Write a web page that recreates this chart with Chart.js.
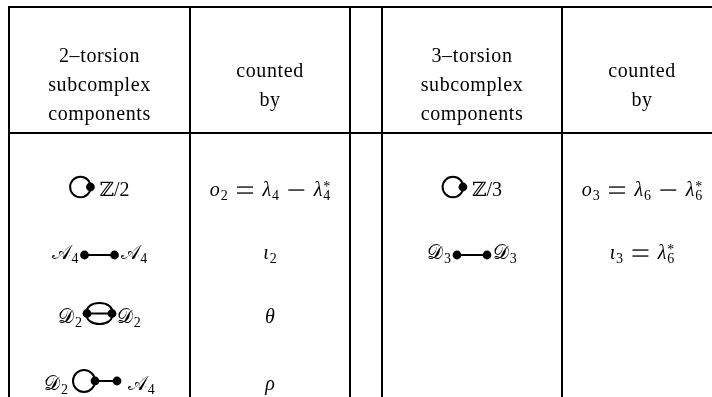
<!DOCTYPE html>
<html>
<head>
<meta charset="utf-8">
<script src="https://cdn.jsdelivr.net/npm/chart.js@4.4.0/dist/chart.umd.min.js"></script>
<style>
  html, body { margin: 0; padding: 0; background: #fff; }
</style>
</head>
<body>
<canvas id="myChart" width="712" height="397"></canvas>
<script>
// column titles
const head2 = ['2–torsion', 'subcomplex', 'components'];
const head3 = ['3–torsion', 'subcomplex', 'components'];
const headCount = ['counted', 'by'];

// subcomplex components (@name = small graph drawn in place)
const comp2 = [
  ['@loop', 'ℤ/2'],
  ['𝒜_4', '@edge', '𝒜_4'],
  ['𝒟_2', '@theta', '𝒟_2'],
  ['𝒟_2', '@lolli', '𝒜_4']
];
const count2 = ['o_2 = λ_4 − λ^*_4', 'ι_2', 'θ', 'ρ'];

const comp3 = [
  ['@loop', 'ℤ/3'],
  ['𝒟_3', '@edge', '𝒟_3']
];
const count3 = ['o_3 = λ_6 − λ^*_6', 'ι_3 = λ^*_6'];

// layout of the table (in scale units, 1 unit = 1 px)
const colWidths = [181, 160, 32, 180, 160];
const headHeight = 126;
const headBase3 = [55, 84, 113];
const headBase2 = [70, 99];
const rowBase = [189, 252, 316, 383];

const colEdges = [0];
colWidths.forEach(w => colEdges.push(colEdges[colEdges.length - 1] + w));

const FS = 20;
const SS = 14;
const SERIF = '"Liberation Serif", "DejaVu Serif", serif';

function fontOf(c, size) {
  const it = /[a-zα-ω]/.test(c);
  return (it ? 'italic ' : '') + size + 'px ' + SERIF;
}

// split a tiny math string into atoms with sub/sup
function atoms(str) {
  const out = [];
  const ch = Array.from(str);
  for (let i = 0; i < ch.length; i++) {
    const c = ch[i];
    if ((c === '_' || c === '^') && out.length) {
      out[out.length - 1][c === '_' ? 'sub' : 'sup'] = ch[++i];
    } else {
      out.push({ base: c });
    }
  }
  return out;
}

function measureMath(ctx, str) {
  const list = atoms(str);
  let w = 0;
  list.forEach(a => {
    if (a.base === ' ') { a.w = FS * 0.42; w += a.w; return; }
    if (a.base === '=' || a.base === '−') { a.w = 18; w += a.w; return; }
    ctx.font = fontOf(a.base, FS);
    a.bw = ctx.measureText(a.base).width;
    ctx.font = SS + 'px ' + SERIF;
    let sw = 0;
    if (a.sub) sw = Math.max(sw, ctx.measureText(a.sub).width);
    if (a.sup) sw = Math.max(sw, ctx.measureText(a.sup).width);
    a.w = a.bw + sw + (sw ? 0.8 : 0);
    w += a.w;
  });
  return { list, w };
}

function drawMath(ctx, m, x, y) {
  m.list.forEach(a => {
    if (a.base === '=' || a.base === '−') {
      const ay = y - 6;
      const bars = a.base === '=' ? [ay - 3, ay + 3] : [ay];
      bars.forEach(by => ctx.fillRect(x + 1, by - 0.6, a.w - 2, 1.3));
    } else if (a.base !== ' ') {
      ctx.font = fontOf(a.base, FS);
      ctx.fillText(a.base, x, y);
      ctx.font = SS + 'px ' + SERIF;
      if (a.sub) ctx.fillText(a.sub, x + a.bw + 0.8, y + 4);
      if (a.sup) ctx.fillText(a.sup, x + a.bw + 0.8, y - 5);
    }
    x += a.w;
  });
}

function dot(ctx, x, y) {
  ctx.beginPath();
  ctx.arc(x, y, 4.4, 0, Math.PI * 2);
  ctx.fill();
}

// little graphs
const graphs = {
  loop: { w: 30, draw(ctx, x, y) {
    const cy = y - 9;
    ctx.beginPath(); ctx.arc(x + 11, cy, 10.3, 0, Math.PI * 2); ctx.stroke();
    dot(ctx, x + 21, cy);
  } },
  edge: { w: 42, draw(ctx, x, y) {
    const cy = y - 4;
    ctx.beginPath(); ctx.moveTo(x + 6, cy); ctx.lineTo(x + 36, cy); ctx.stroke();
    dot(ctx, x + 6, cy); dot(ctx, x + 36, cy);
  } },
  theta: { w: 35, draw(ctx, x, y) {
    const cy = y - 9.5, a = x + 5, b = x + 30;
    ctx.beginPath();
    ctx.moveTo(a, cy); ctx.bezierCurveTo(a - 3, cy - 14, b + 3, cy - 14, b, cy);
    ctx.moveTo(a, cy); ctx.bezierCurveTo(a - 3, cy + 14, b + 3, cy + 14, b, cy);
    ctx.moveTo(a, cy); ctx.lineTo(b, cy);
    ctx.stroke();
    dot(ctx, a, cy); dot(ctx, b, cy);
  } },
  lolli: { w: 60, draw(ctx, x, y) {
    const cy = y - 9;
    ctx.beginPath(); ctx.arc(x + 16, cy, 11, 0, Math.PI * 2); ctx.stroke();
    ctx.beginPath(); ctx.moveTo(x + 27, cy); ctx.lineTo(x + 49, cy); ctx.stroke();
    dot(ctx, x + 27, cy); dot(ctx, x + 49, cy);
  } }
};

function drawRow(ctx, parts, cx, y) {
  const items = parts.map(p => p[0] === '@' ? { g: graphs[p.slice(1)] } : { m: measureMath(ctx, p) });
  const total = items.reduce((s, it) => s + (it.g ? it.g.w : it.m.w), 0);
  let x = cx - total / 2;
  items.forEach(it => {
    if (it.g) { it.g.draw(ctx, x, y); x += it.g.w; }
    else { drawMath(ctx, it.m, x, y); x += it.m.w; }
  });
}

const tablePlugin = {
  id: 'tableText',
  afterDraw(chart) {
    const ctx = chart.ctx;
    const xs = chart.scales.x, ys = chart.scales.y;
    const colMid = i => xs.getPixelForValue((colEdges[i] + colEdges[i + 1]) / 2);
    ctx.save();
    ctx.fillStyle = '#000';
    ctx.strokeStyle = '#000';
    ctx.lineWidth = 2;
    ctx.textBaseline = 'alphabetic';

    // header
    ctx.font = FS + 'px ' + SERIF;
    ctx.textAlign = 'center';
    ctx.letterSpacing = '0.6px';
    head2.forEach((t, i) => ctx.fillText(t, colMid(0), ys.getPixelForValue(headBase3[i])));
    headCount.forEach((t, i) => ctx.fillText(t, colMid(1), ys.getPixelForValue(headBase2[i])));
    head3.forEach((t, i) => ctx.fillText(t, colMid(3), ys.getPixelForValue(headBase3[i])));
    headCount.forEach((t, i) => ctx.fillText(t, colMid(4), ys.getPixelForValue(headBase2[i])));
    ctx.letterSpacing = '0px';
    ctx.textAlign = 'left';

    // body
    comp2.forEach((r, i) => drawRow(ctx, r, colMid(0), ys.getPixelForValue(rowBase[i])));
    count2.forEach((r, i) => drawRow(ctx, [r], colMid(1), ys.getPixelForValue(rowBase[i])));
    comp3.forEach((r, i) => drawRow(ctx, r, colMid(3), ys.getPixelForValue(rowBase[i])));
    count3.forEach((r, i) => drawRow(ctx, [r], colMid(4), ys.getPixelForValue(rowBase[i])));
    ctx.restore();
  }
};

const ctx = document.getElementById('myChart').getContext('2d');
const myChart = new Chart(ctx, {
  type: 'scatter',
  data: { datasets: [] },
  options: {
    responsive: false,
    animation: false,
    layout: { padding: { left: 8, top: 6, right: 0, bottom: 0 } },
    plugins: { legend: { display: false }, tooltip: { enabled: false } },
    scales: {
      x: {
        type: 'linear', min: -1, max: 703,
        grid: { color: '#000', lineWidth: 2, drawTicks: false },
        border: { display: false },
        ticks: { display: false },
        afterBuildTicks: s => { s.ticks = colEdges.slice(0, -1).map(v => ({ value: v })); }
      },
      y: {
        type: 'linear', reverse: true, min: -1, max: 390,
        grid: { color: '#000', lineWidth: 2, drawTicks: false },
        border: { display: false },
        ticks: { display: false },
        afterBuildTicks: s => { s.ticks = [0, headHeight].map(v => ({ value: v })); }
      }
    }
  },
  plugins: [tablePlugin]
});
</script>
</body>
</html>
